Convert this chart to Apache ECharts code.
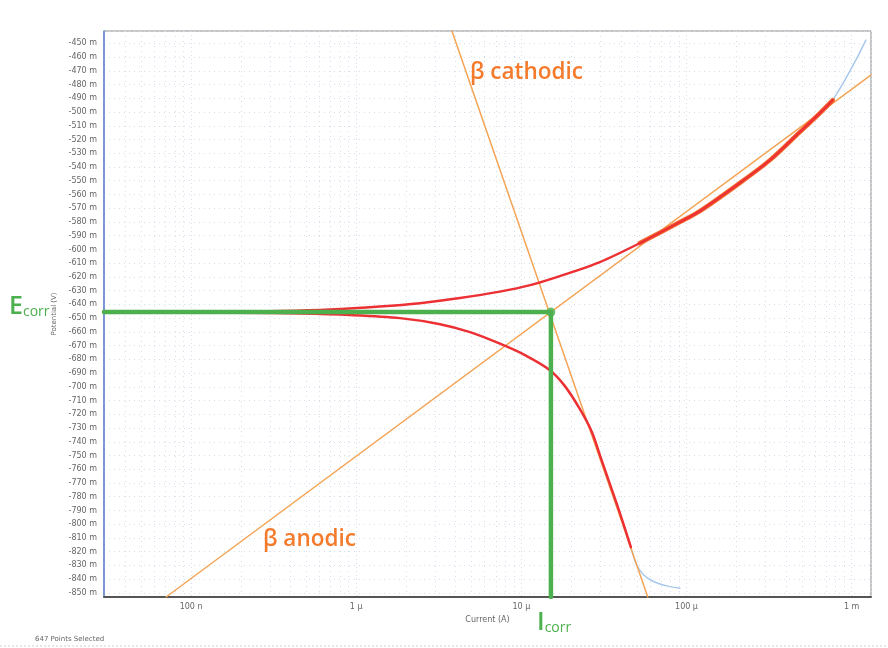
<!DOCTYPE html>
<html>
<head>
<meta charset="utf-8">
<script src="https://cdn.jsdelivr.net/npm/echarts@6/dist/echarts.min.js"></script>
<style>
  html, body { margin: 0; padding: 0; background: #ffffff; }
  #chart { width: 888px; height: 648px; }
</style>
</head>
<body>
<div id="chart"></div>
<script>
// Tafel plot: potential (mV) against current (A) on a log current axis.

// Current axis decades and their labels
const xTickExps = [-7, -6, -5, -4, -3];
const xTickLabels = ['100 n', '1 µ', '10 µ', '100 µ', '1 m'];
const currentRange = [2.97e-8, 1.31e-3];
const potentialRange = [-853, -441];

// Measured curve, anodic branch (selected part, then the rest)
const anodicFitI = [1.85e-7, 3.46e-7, 6.93e-7, 1.39e-6, 2.43e-6, 4.25e-6, 7.41e-6, 1.13e-5, 1.71e-5, 2.99e-5, 5.22e-5, 9.12e-5, 1.205e-4, 2.10e-4, 3.20e-4, 4.85e-4, 6.43e-4, 7.69e-4];
const anodicFitE = [-645.3, -644.9, -643.8, -641.6, -639.1, -635.4, -630.7, -626.0, -619.4, -609.2, -595.4, -580.1, -572.1, -551.7, -535.0, -514.6, -500.7, -491.3];
const anodicTailI = [7.69e-4, 9.10e-4, 1.06e-3, 1.22e-3];
const anodicTailE = [-491.3, -476.7, -462.2, -447.6];

// Fitted region of the anodic branch, drawn as a wider band
const anodicBandI = [5.22e-5, 9.12e-5, 1.205e-4, 2.10e-4, 3.20e-4, 4.85e-4, 6.43e-4, 7.69e-4];
const anodicBandE = [-595.4, -580.1, -572.1, -551.7, -535.0, -514.6, -500.7, -491.3];

// Measured curve, cathodic branch (selected part, then the rest)
const cathodicFitI = [1.85e-7, 4.57e-7, 9.17e-7, 1.84e-6, 3.22e-6, 4.89e-6, 7.42e-6, 1.051e-5, 1.49e-5, 1.836e-5, 2.263e-5, 2.676e-5, 3.032e-5, 3.438e-5, 3.897e-5, 4.606e-5];
const cathodicFitE = [-646.0, -646.7, -647.8, -650.0, -654.4, -660.2, -668.6, -676.9, -687.9, -699.5, -716.3, -733.0, -751.9, -770.8, -789.8, -816.7];
const cathodicTailI = [4.606e-5, 4.94e-5, 5.45e-5, 6.27e-5, 7.71e-5, 9.12e-5];
const cathodicTailE = [-816.7, -828.4, -836.4, -841.5, -845.1, -846.6];

// Tafel fit lines (end points)
const cathodicTafelI = [3.80e-6, 5.83e-5];
const cathodicTafelE = [-441, -853];
const anodicTafelI = [7.06e-8, 1.306e-3];
const anodicTafelE = [-853, -473.1];

// Corrosion point
const ECORR = -645.6;
const ICORR = 1.51e-5;

const pairs = (xs, ys) => xs.map((x, i) => [x, ys[i]]);

const RED = '#ec3034';
const BAND = '#f26b2d';
const BLUE = '#a9c9ec';
const ORANGE_LINE = '#f4a455';
const ORANGE_TEXT = '#f47b2c';
const GREEN = '#4cb04f';
const GRID = '#d3e0ec';

const chart = echarts.init(document.getElementById('chart'), null, { renderer: 'canvas' });

const lineSeries = (name, data, color, width, z, smooth) => ({
  name, type: 'line', data, z,
  showSymbol: false, symbol: 'none',
  smooth: smooth ? 0.3 : false,
  lineStyle: { color, width, cap: 'round', join: 'round' },
  animation: false, silent: true
});

const sub = (big) => ({
  text: '{a|' + big + '}{b|corr}',
  rich: {
    a: { fill: GREEN, font: '600 25px "Open Sans"', verticalAlign: 'bottom' },
    b: { fill: GREEN, font: '500 14px "Open Sans"', verticalAlign: 'bottom', padding: [0, 0, 0, 0] }
  }
});

chart.setOption({
  animation: false,
  backgroundColor: '#ffffff',
  grid: {
    left: 104, right: 17, top: 31, bottom: 51,
    show: true, borderColor: '#8c8c8c', borderWidth: 1, backgroundColor: '#ffffff'
  },
  xAxis: {
    type: 'log', logBase: 10,
    min: currentRange[0], max: currentRange[1],
    name: 'Current (A)', nameLocation: 'middle', nameGap: 17,
    nameTextStyle: { fontSize: 8, color: '#666', fontFamily: 'DejaVu Sans' },
    axisLine: { show: true, lineStyle: { color: '#555', width: 2 } },
    axisTick: { show: false },
    minorTick: { show: false, splitNumber: 9 },
    axisLabel: {
      fontSize: 8, color: '#666', fontFamily: 'DejaVu Sans', margin: 6,
      showMinLabel: false, showMaxLabel: false,
      formatter: (v) => {
        const e = Math.log10(v);
        const r = Math.round(e);
        if (Math.abs(e - r) > 1e-6) return '';
        const k = xTickExps.indexOf(r);
        return k >= 0 ? xTickLabels[k] : '';
      }
    },
    splitLine: { show: true, lineStyle: { color: GRID, type: [1, 3], width: 1 } },
    minorSplitLine: { show: true, lineStyle: { color: GRID, type: [1, 4], width: 1 } }
  },
  yAxis: {
    type: 'value',
    min: potentialRange[0], max: potentialRange[1],
    minInterval: 10, maxInterval: 10,
    name: 'Potential (V)', nameLocation: 'middle', nameGap: 44,
    nameTextStyle: { fontSize: 7, color: '#666', fontFamily: 'DejaVu Sans' },
    axisLine: { show: true, lineStyle: { color: '#5f84d8', width: 1.5 } },
    axisTick: { show: false },
    axisLabel: {
      fontSize: 8, color: '#666', fontFamily: 'DejaVu Sans', margin: 7,
      interval: 0, showMinLabel: false, showMaxLabel: false,
      formatter: (v) => (Math.abs(v % 10) < 1e-6 ? v + ' m' : '')
    },
    splitLine: { show: true, lineStyle: { color: GRID, type: [1, 4], width: 1 } }
  },
  series: [
    lineSeries('anodic tail', pairs(anodicTailI, anodicTailE), BLUE, 1.5, 2, true),
    lineSeries('cathodic tail', pairs(cathodicTailI, cathodicTailE), BLUE, 1.5, 2, true),
    lineSeries('cathodic Tafel', pairs(cathodicTafelI, cathodicTafelE), ORANGE_LINE, 1.5, 3, false),
    lineSeries('anodic Tafel', pairs(anodicTafelI, anodicTafelE), ORANGE_LINE, 1.5, 3, false),
    lineSeries('anodic band', pairs(anodicBandI, anodicBandE), BAND, 4.5, 4, true),
    lineSeries('anodic', pairs(anodicFitI, anodicFitE), RED, 2.5, 5, true),
    lineSeries('cathodic', pairs(cathodicFitI, cathodicFitE), RED, 2.5, 5, true),
    lineSeries('Ecorr', [[currentRange[0], ECORR], [ICORR, ECORR]], GREEN, 4.5, 6, false),
    lineSeries('Icorr', [[ICORR, ECORR], [ICORR, potentialRange[0]]], GREEN, 4.5, 6, false),
    {
      name: 'corrosion point', type: 'scatter', z: 7,
      data: [[ICORR, ECORR]], symbol: 'circle', symbolSize: 9,
      itemStyle: { color: GREEN }, animation: false, silent: true
    }
  ],
  graphic: [
    {
      type: 'text', left: 470, top: 61, z: 10,
      style: { text: 'β cathodic', fill: ORANGE_TEXT, font: '600 22.5px "Open Sans"' }
    },
    {
      type: 'text', left: 263, top: 528, z: 10,
      style: { text: 'β anodic', fill: ORANGE_TEXT, font: '600 22.5px "Open Sans"' }
    },
    { type: 'text', left: 9, top: 294, z: 10, style: sub('E') },
    { type: 'text', left: 537, top: 610, z: 10, style: sub('I') },
    {
      type: 'text', left: 35, top: 636, z: 10,
      style: { text: '647 Points Selected', fill: '#666', font: '7px "DejaVu Sans"' }
    },
    {
      type: 'line', z: 1, silent: true,
      shape: { x1: 0, y1: 646, x2: 888, y2: 646 },
      style: { stroke: '#cfcfcf', lineWidth: 1, lineDash: [2, 2] }
    }
  ]
});
</script>
</body>
</html>
